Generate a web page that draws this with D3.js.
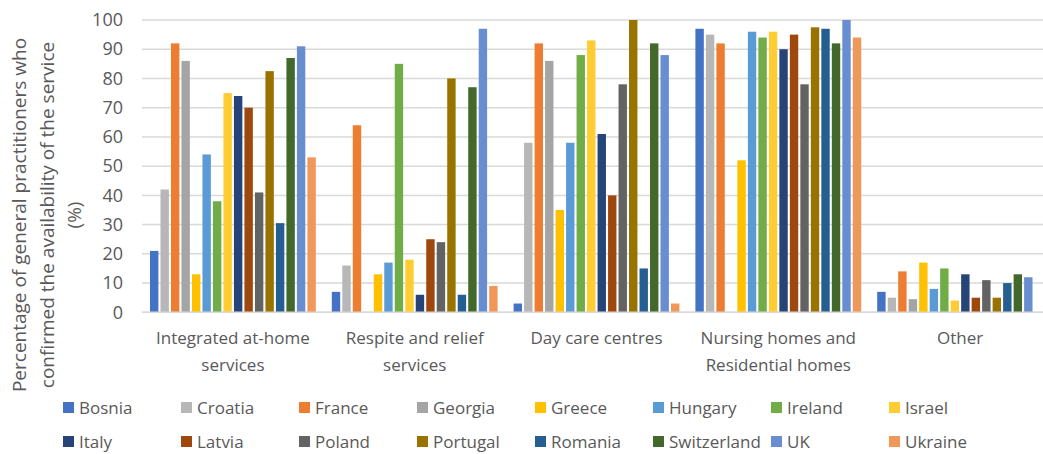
<!DOCTYPE html>
<html><head><meta charset="utf-8">
<script src="https://cdn.jsdelivr.net/npm/d3@7"></script>
<style>
html,body{margin:0;padding:0;background:#fff;overflow:hidden}
text{font-family:"Open Sans","Noto Sans",sans-serif;fill:#595959}
</style></head>
<body><svg id="c" width="1043" height="454"></svg>
<script>
const categories = [["Integrated at-home","services"],["Respite and relief","services"],["Day care centres"],["Nursing homes and","Residential homes"],["Other"]];
const countries = ["Bosnia","Croatia","France","Georgia","Greece","Hungary","Ireland","Israel","Italy","Latvia","Poland","Portugal","Romania","Switzerland","UK","Ukraine"];
const colors = ["#4472C4","#B7B7B7","#ED7D31","#A5A5A5","#FFC000","#5B9BD5","#70AD47","#FFCD33","#264478","#9E480E","#636363","#997300","#255E91","#43682B","#698ED0","#F1975A"];
// values per country, in category order
const Bosnia      = [21, 7, 3, 97, 7];
const Croatia     = [42, 16, 58, 95, 5];
const France      = [92, 64, 92, 92, 14];
const Georgia     = [86, 0, 86, 0, 4.5];
const Greece      = [13, 13, 35, 52, 17];
const Hungary     = [54, 17, 58, 96, 8];
const Ireland     = [38, 85, 88, 94, 15];
const Israel      = [75, 18, 93, 96, 4];
const Italy       = [74, 6, 61, 90, 13];
const Latvia      = [70, 25, 40, 95, 5];
const Poland      = [41, 24, 78, 78, 11];
const Portugal    = [82.5, 80, 100, 97.5, 5];
const Romania     = [30.5, 6, 15, 97, 10];
const Switzerland = [87, 77, 92, 92, 13];
const UK          = [91, 97, 88, 100, 12];
const Ukraine     = [53, 9, 3, 94, 0];
const seriesValues = [Bosnia,Croatia,France,Georgia,Greece,Hungary,Ireland,Israel,Italy,Latvia,Poland,Portugal,Romania,Switzerland,UK,Ukraine];
const yTicks = [0,10,20,30,40,50,60,70,80,90,100];
const yTitle = ["Percentage of general practitioners who","confirmed the availability of the service","(%)"];

const svg = d3.select("#c");
const pLeft = 142, pRight = 1051, pTop = 20, pBottom = 312.3;
const x0 = d3.scaleBand().domain(d3.range(categories.length)).range([pLeft, pRight]).padding(0);
const x1 = d3.scaleBand().domain(countries).range([8, x0.bandwidth() - 8]).paddingInner(0.2);
const y = d3.scaleLinear().domain([0, 100]).range([pBottom, pTop]);

// gridlines
svg.append("g").selectAll("line").data(yTicks).join("line")
  .attr("x1", pLeft).attr("x2", pRight)
  .attr("y1", d => y(d)).attr("y2", d => y(d))
  .attr("stroke", "#D9D9D9").attr("stroke-width", 1.5);

// y axis labels
const yAxis = d3.axisLeft(y).tickValues(yTicks).tickSize(0).tickPadding(19);
const ga = svg.append("g").attr("transform", `translate(${pLeft},0)`).call(yAxis);
ga.select(".domain").remove();
ga.selectAll("text").style("font-size", "18px").attr("fill", "#595959").style("font-family", '"Open Sans",sans-serif');

// bars
const groups = svg.append("g").selectAll("g").data(categories.map((c, i) => i)).join("g")
  .attr("transform", i => `translate(${x0(i)},0)`);
groups.selectAll("rect").data(i => countries.map((c, k) => ({c, k, v: seriesValues[k][i]})))
  .join("rect")
  .attr("x", d => x1(d.c)).attr("width", x1.bandwidth())
  .attr("y", d => y(d.v)).attr("height", d => y(0) - y(d.v))
  .attr("fill", d => colors[d.k]);

// baseline
svg.append("line").attr("x1", pLeft).attr("x2", pRight).attr("y1", y(0)).attr("y2", y(0))
  .attr("stroke", "#D9D9D9").attr("stroke-width", 1.5);

// category labels
const cl = svg.append("g").selectAll("text").data(categories).join("text")
  .attr("text-anchor", "middle").style("font-size", "17px")
  .attr("transform", (d, i) => `translate(${x0(i) + x0.bandwidth() / 2},344)`);
cl.selectAll("tspan").data(d => d).join("tspan")
  .attr("x", 0).attr("dy", (d, j) => j === 0 ? 0 : 27).text(d => d);

// y title
const yt = svg.append("text").attr("text-anchor", "middle").style("font-size", "19px")
  .attr("transform", "translate(26,215) rotate(-90)");
yt.selectAll("tspan").data(yTitle).join("tspan")
  .attr("x", 0).attr("dy", (d, j) => j === 0 ? 0 : 27.5).text(d => d);

// legend
const colX = [63, 181, 299, 417, 535, 653, 771, 889];
const rowY = [408, 442];
const leg = svg.append("g");
for (let r = 0; r < 2; r++) {
  let prevEnd = 0;
  for (let c = 0; c < 8; c++) {
    const k = r * 8 + c;
    const sx = Math.max(colX[c], prevEnd + 7);
    leg.append("rect").attr("x", sx).attr("y", rowY[r] - 6).attr("width", 11).attr("height", 11).attr("fill", colors[k]);
    const t = leg.append("text").attr("x", sx + 16).attr("y", rowY[r] + 6).style("font-size", "17px").text(countries[k]);
    prevEnd = sx + 16 + t.node().getComputedTextLength();
  }
}
</script></body></html>
